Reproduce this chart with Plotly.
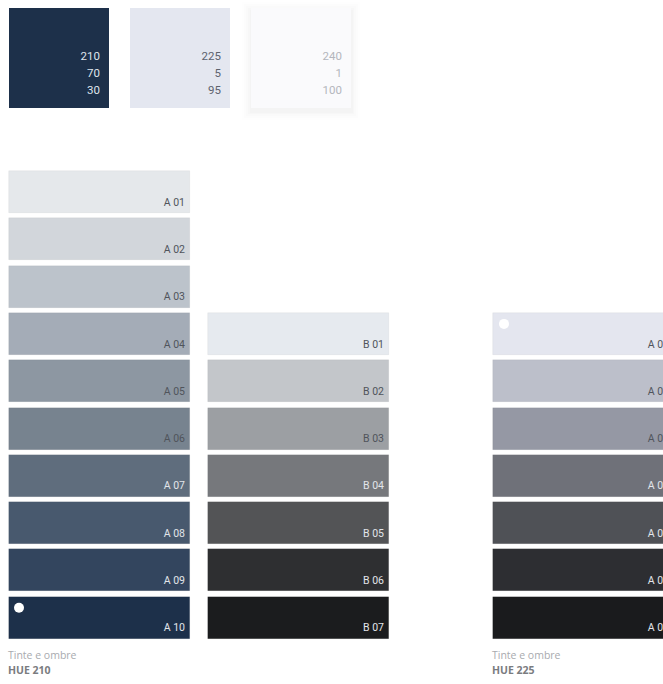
import plotly.graph_objects as go

# ---------------- data ----------------
base_labels = ["HSB A", "HSB B", "HSB C"]
base_values = [["210", "70", "30"], ["225", "5", "95"], ["240", "1", "100"]]
base_colors = ["#1d304a", "#e4e7f0", "#fafafc"]
base_text_colors = ["#dfe4ec", "#5c626e", "#b4b6bc"]

a_labels = ["A 01", "A 02", "A 03", "A 04", "A 05", "A 06", "A 07", "A 08", "A 09", "A 10"]
a_colors = ["#e5e8eb", "#d2d6db", "#bcc3cb", "#a4acb7", "#8d97a2", "#77838f",
            "#5f6d7d", "#48596e", "#33455e", "#1d304a"]

b_labels = ["B 01", "B 02", "B 03", "B 04", "B 05", "B 06", "B 07"]
b_colors = ["#e6eaef", "#c3c6ca", "#9c9fa3", "#76787c", "#535456", "#2e2f31", "#1b1c1e"]

c_labels = ["A 01", "A 02", "A 03", "A 04", "A 05", "A 06", "A 07"]
c_colors = ["#e4e6ef", "#bcbfca", "#9598a4", "#6f7179", "#4f5156", "#2d2e32", "#1a1b1d"]

captions = ["Tinte e ombre", "Tinte e ombre"]
hues = ["HUE 210", "HUE 225"]

# ---------------- layout geometry ----------------
W, H = 663, 684
ROW_TOP0 = 171.0
PITCH = 47.3
ROW_H = 42.0
COL_W = 181.0
cols = [
    dict(left=9, labels=a_labels, colors=a_colors, start=0),
    dict(left=208, labels=b_labels, colors=b_colors, start=3),
    dict(left=493, labels=c_labels, colors=c_colors, start=3),
]


def light(hexc):
    r, g, b = int(hexc[1:3], 16), int(hexc[3:5], 16), int(hexc[5:7], 16)
    return 0.299 * r + 0.587 * g + 0.114 * b > 120


fig = go.Figure()

# top swatches: soft shadow under third
sq_lefts = [9, 130, 251]
SQ = 100
for alpha, pad in [(0.005, 9), (0.007, 7), (0.009, 5), (0.011, 3), (0.012, 1.5)]:
    fig.add_trace(go.Bar(x=[sq_lefts[2] + SQ / 2], y=[SQ + 2 * pad], base=[8 - pad + 3],
                         width=[SQ + 2 * pad], marker=dict(color=f"rgba(0,0,0,{alpha})", line_width=0),
                         hoverinfo="skip", showlegend=False))
fig.add_trace(go.Bar(x=[l + SQ / 2 for l in sq_lefts], y=[SQ] * 3, base=[8] * 3, width=[SQ] * 3,
                     marker=dict(color=base_colors, line_width=0), hoverinfo="skip", showlegend=False))
for i, vals in enumerate(base_values):
    fig.add_trace(go.Scatter(x=[sq_lefts[i] + 91] * 3, y=[57, 74, 91], text=vals, mode="text",
                             textposition="middle left",
                             textfont=dict(family="Roboto", size=11.5, color=base_text_colors[i]),
                             hoverinfo="skip", showlegend=False, cliponaxis=True))

# palette columns
for c in cols:
    n = len(c["colors"])
    tops = [ROW_TOP0 + (c["start"] + i) * PITCH for i in range(n)]
    fig.add_trace(go.Bar(x=[c["left"] + COL_W / 2] * n, y=[ROW_H] * n, base=tops, width=[COL_W] * n,
                         marker=dict(color=c["colors"], line=dict(width=0.6, color="rgba(0,0,0,0.08)")),
                         hoverinfo="skip", showlegend=False))
    tcols = ["#50545b" if light(col) else "#e2e5ea" for col in c["colors"]]
    fig.add_trace(go.Scatter(x=[c["left"] + 176] * n, y=[t + 32 for t in tops], text=c["labels"],
                             mode="text", textposition="middle left",
                             textfont=dict(family="Roboto", size=10.5, color=tcols),
                             hoverinfo="skip", showlegend=False, cliponaxis=True))

# white dots
fig.add_trace(go.Scatter(x=[19, 504], y=[ROW_TOP0 + 9 * PITCH + 11, ROW_TOP0 + 3 * PITCH + 11],
                         mode="markers", marker=dict(color="white", size=10, line_width=0),
                         hoverinfo="skip", showlegend=False))

# captions
for i, left in enumerate([9, 493]):
    fig.add_trace(go.Scatter(x=[left - 1, left - 1], y=[656, 671], text=[captions[i], f"<b>{hues[i]}</b>"],
                             mode="text", textposition="middle right",
                             textfont=dict(family="Open Sans", size=10.5, color=["#a9abaf", "#7a7c80"]),
                             hoverinfo="skip", showlegend=False, cliponaxis=True))

fig.update_layout(
    width=W, height=H, margin=dict(l=0, r=0, t=0, b=0),
    paper_bgcolor="white", plot_bgcolor="white", barmode="overlay", bargap=0,
    xaxis=dict(range=[0, W], visible=False, fixedrange=True),
    yaxis=dict(range=[H, 0], visible=False, fixedrange=True),
)
fig.write_html("out.html", config={"displayModeBar": False},
               post_script="document.body.style.margin='0';document.documentElement.style.overflow='hidden';")
